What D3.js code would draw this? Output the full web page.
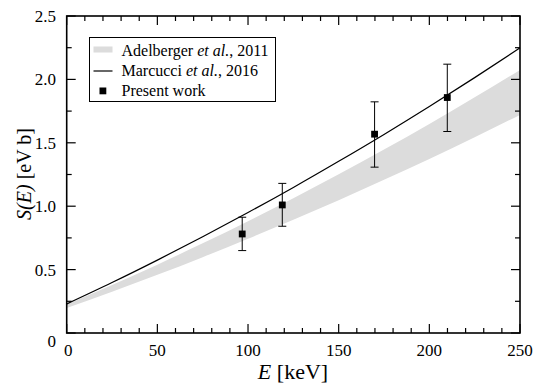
<!DOCTYPE html>
<html><head><meta charset="utf-8">
<script src="https://cdn.jsdelivr.net/npm/d3@7"></script>
<style>body{margin:0;background:#fff}svg{display:block}</style>
</head><body><svg id="c" width="535" height="385"></svg>
<script>
// Data
const energyGrid = [0,25,50,75,100,125,150,175,200,225,250];
const marcucci   = [0.229,0.398,0.575,0.759,0.950,1.148,1.354,1.566,1.786,2.014,2.248];
const adelLow    = [0.197,0.326,0.459,0.598,0.743,0.893,1.047,1.208,1.373,1.544,1.720];
const adelHigh   = [0.225,0.379,0.539,0.707,0.881,1.063,1.251,1.447,1.649,1.859,2.075];
const presentE   = [96.8,118.9,169.8,209.9];
const presentS   = [0.781,1.01,1.568,1.857];
const presentHi  = [0.913,1.18,1.823,2.12];
const presentLo  = [0.65,0.842,1.308,1.589];
const xTicks = [0,50,100,150,200,250];
const yTicks = [0,0.5,1.0,1.5,2.0,2.5];
const yTickLabels = ["0","0.5","1.0","1.5","2.0","2.5"];

const FONT = "'Liberation Serif', 'Times New Roman', Times, Tinos, 'DejaVu Serif', serif";
const svg = d3.select("#c").attr("font-family", FONT);
const L=66.7, R=520, T=16, B=333;
const x = d3.scaleLinear().domain([0,250]).range([L,R]);
const y = d3.scaleLinear().domain([0,2.5]).range([B,T]);

// band
const band = d3.area().x((d,i)=>x(energyGrid[i])).y0((d,i)=>y(adelLow[i])).y1((d,i)=>y(adelHigh[i])).curve(d3.curveMonotoneX);
svg.append("path").datum(energyGrid).attr("d",band).attr("fill","#dcdcdc");

// line
const line = d3.line().x((d,i)=>x(energyGrid[i])).y((d,i)=>y(marcucci[i])).curve(d3.curveMonotoneX);
svg.append("path").datum(energyGrid).attr("d",line).attr("fill","none").attr("stroke","#000").attr("stroke-width",1.2);

// error bars + points
const g = svg.append("g");
presentE.forEach((e,i)=>{
  const cx=x(e);
  g.append("line").attr("x1",cx).attr("x2",cx).attr("y1",y(presentLo[i])).attr("y2",y(presentHi[i])).attr("stroke","#000").attr("stroke-width",1);
  [presentLo[i],presentHi[i]].forEach(v=>g.append("line").attr("x1",cx-4).attr("x2",cx+4).attr("y1",y(v)).attr("y2",y(v)).attr("stroke","#000").attr("stroke-width",1));
  g.append("rect").attr("x",cx-3.4).attr("y",y(presentS[i])-3.4).attr("width",6.8).attr("height",6.8).attr("fill","#000");
});

// axes ticks (inward) on all four sides
const ax = svg.append("g");
const xMinor = d3.range(0,251,10).filter(v=>v%50!==0);
const yMinor = [0.25,0.75,1.25,1.75,2.25];
function tick(x1,y1,x2,y2){ax.append("line").attr("x1",x1).attr("y1",y1).attr("x2",x2).attr("y2",y2).attr("stroke","#000").attr("stroke-width",1.2);}
xTicks.forEach(v=>{tick(x(v),B,x(v),B-9);tick(x(v),T,x(v),T+9);});
xMinor.forEach(v=>{tick(x(v),B,x(v),B-5);tick(x(v),T,x(v),T+5);});
yTicks.forEach(v=>{tick(L,y(v),L+9,y(v));tick(R,y(v),R-9,y(v));});
yMinor.forEach(v=>{tick(L,y(v),L+5,y(v));tick(R,y(v),R-5,y(v));});
svg.append("rect").attr("x",L).attr("y",T).attr("width",R-L).attr("height",B-T).attr("fill","none").attr("stroke","#000").attr("stroke-width",1.6);

// tick labels
xTicks.forEach((v,i)=>{
  svg.append("text").attr("x",x(v)+(v===0?1.5:0)).attr("y",356).attr("text-anchor","middle").attr("font-size",17).text(String(v));
});
yTicks.forEach((v,i)=>{
  svg.append("text").attr("x",56).attr("y",y(v)+(v===0?14:6)).attr("text-anchor","end").attr("font-size",17).text(yTickLabels[i]);
});

// axis titles
const xt = svg.append("text").attr("x",293).attr("y",379).attr("text-anchor","middle").attr("font-size",22);
xt.append("tspan").attr("font-style","italic").text("E");
xt.append("tspan").text(" [keV]");
const yt = svg.append("text").attr("transform","translate(31,174) rotate(-90)").attr("text-anchor","middle").attr("font-size",20);
yt.append("tspan").attr("font-style","italic").text("S(E)");
yt.append("tspan").text(" [eV b]");

// legend
const lg = svg.append("g");
lg.append("rect").attr("x",89.5).attr("y",37.5).attr("width",186).attr("height",64).attr("fill","#fff").attr("stroke","#000").attr("stroke-width",1);
lg.append("rect").attr("x",93.5).attr("y",46.5).attr("width",19).attr("height",6).attr("fill","#dcdcdc");
lg.append("line").attr("x1",93.5).attr("x2",112.5).attr("y1",71).attr("y2",71).attr("stroke","#000").attr("stroke-width",1.2);
lg.append("rect").attr("x",99.5).attr("y",87.5).attr("width",6.8).attr("height",6.8).attr("fill","#000");
function legText(yy, parts){
  const t = lg.append("text").attr("x",121.5).attr("y",yy).attr("font-size",16);
  parts.forEach(p=>t.append("tspan").attr("font-style",p[1]?"italic":"normal").text(p[0]));
}
legText(55.5,[["Adelberger ",0],["et al.",1],[", 2011",0]]);
legText(76,[["Marcucci ",0],["et al.",1],[", 2016",0]]);
legText(96,[["Present work",0]]);
</script></body></html>
